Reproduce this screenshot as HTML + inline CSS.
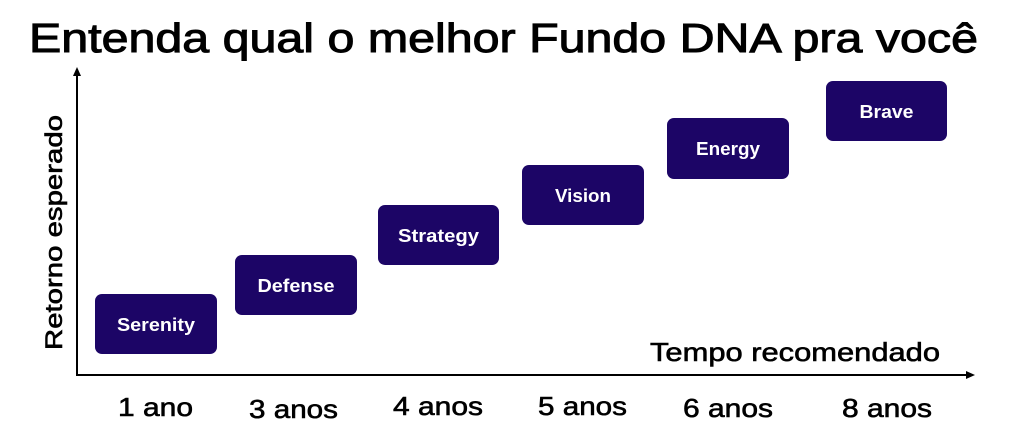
<!DOCTYPE html>
<html>
<head>
<meta charset="utf-8">
<style>
html,body{margin:0;padding:0;background:#fff;}
svg{display:block;}
text{font-family:"Liberation Sans",sans-serif;}
</style>
</head>
<body>
<svg width="1023" height="440" viewBox="0 0 1023 440" xmlns="http://www.w3.org/2000/svg">
  <rect width="1023" height="440" fill="#fff"/>
  <!-- Title -->
  <text x="29" y="52" font-size="41" fill="#000" stroke="#000" stroke-width="1" textLength="949" lengthAdjust="spacingAndGlyphs">Entenda qual o melhor Fundo DNA pra você</text>

  <!-- Axes -->
  <line x1="77" y1="74" x2="77" y2="376" stroke="#000" stroke-width="2"/>
  <polygon points="77,67 73,76 81,76" fill="#000"/>
  <line x1="76" y1="375" x2="968" y2="375" stroke="#000" stroke-width="2"/>
  <polygon points="975,375 966,371 966,379" fill="#000"/>

  <g fill="#000" stroke="#000" stroke-width="0.6">
  <!-- Y label -->
  <text transform="translate(62,350) rotate(-90)" x="0" y="0" font-size="24" textLength="235" lengthAdjust="spacingAndGlyphs">Retorno esperado</text>

  <!-- X label -->
  <text x="650" y="361" font-size="26" textLength="290" lengthAdjust="spacingAndGlyphs">Tempo recomendado</text>

  <!-- Year labels -->
  <text x="118" y="416" font-size="26" textLength="75" lengthAdjust="spacingAndGlyphs">1 ano</text>
  <text x="249" y="418" font-size="26" textLength="89" lengthAdjust="spacingAndGlyphs">3 anos</text>
  <text x="393" y="415" font-size="26" textLength="90" lengthAdjust="spacingAndGlyphs">4 anos</text>
  <text x="538" y="415" font-size="26" textLength="89" lengthAdjust="spacingAndGlyphs">5 anos</text>
  <text x="683" y="417" font-size="26" textLength="90" lengthAdjust="spacingAndGlyphs">6 anos</text>
  <text x="842" y="417" font-size="26" textLength="90" lengthAdjust="spacingAndGlyphs">8 anos</text>
  </g>

  <!-- Boxes -->
  <g fill="#1c0566">
    <rect x="95" y="294" width="122" height="60" rx="7"/>
    <rect x="235" y="255" width="122" height="60" rx="7"/>
    <rect x="378" y="205" width="121" height="60" rx="7"/>
    <rect x="522" y="165" width="122" height="60" rx="7"/>
    <rect x="667" y="118" width="122" height="61" rx="7"/>
    <rect x="826" y="81" width="121" height="60" rx="7"/>
  </g>
  <g fill="#fff" font-size="18" font-weight="bold" text-anchor="middle">
    <text x="156" y="331" textLength="78" lengthAdjust="spacingAndGlyphs">Serenity</text>
    <text x="296" y="292" textLength="77" lengthAdjust="spacingAndGlyphs">Defense</text>
    <text x="438.5" y="242" textLength="81" lengthAdjust="spacingAndGlyphs">Strategy</text>
    <text x="583" y="202" textLength="56" lengthAdjust="spacingAndGlyphs">Vision</text>
    <text x="728" y="155" textLength="64" lengthAdjust="spacingAndGlyphs">Energy</text>
    <text x="886.5" y="118" textLength="54" lengthAdjust="spacingAndGlyphs">Brave</text>
  </g>
</svg>
</body>
</html>
